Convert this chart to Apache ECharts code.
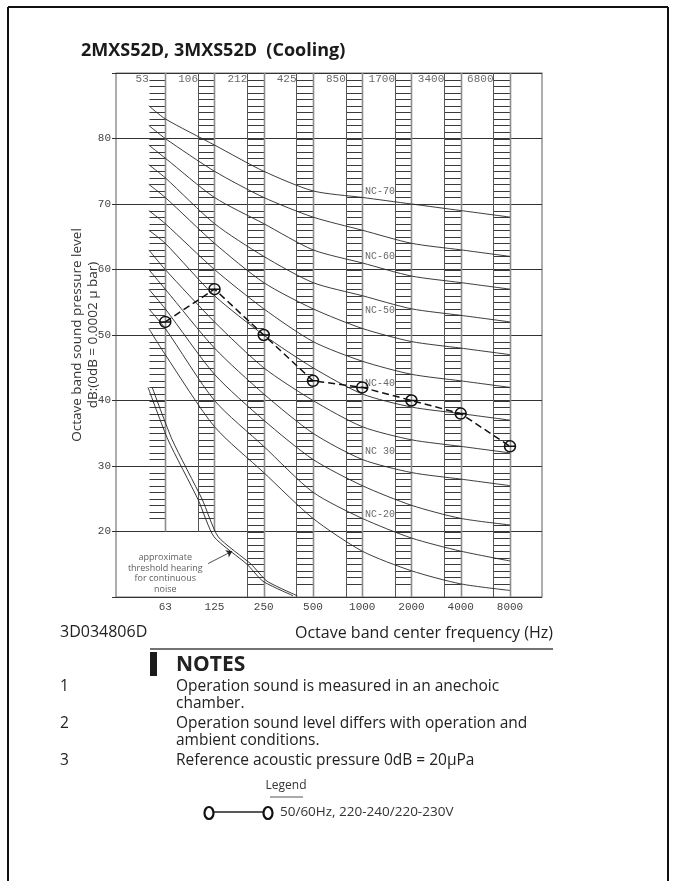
<!DOCTYPE html>
<html>
<head>
<meta charset="utf-8">
<script src="https://cdn.jsdelivr.net/npm/echarts@6/dist/echarts.min.js"></script>
<style>
html,body{margin:0;padding:0;background:#fff;}
#chart{width:677px;height:881px;}
</style>
</head>
<body>
<div id="chart"></div>
<script>
// ---- data ----
const centerFreqs = ['63', '125', '250', '500', '1000', '2000', '4000', '8000'];
const bandEdges = ['53', '106', '212', '425', '850', '1700', '3400', '6800'];
const measuredLevels = [52, 57, 50, 43, 42, 40, 38, 33];
// NC curves: first value = level at lower edge of the 63 Hz band, then 63 ... 8000 Hz
const ncNames = ['NC-15', 'NC-20', 'NC-25', 'NC-30', 'NC-35', 'NC-40', 'NC-45', 'NC-50', 'NC-55', 'NC-60', 'NC-65', 'NC-70'];
const nc15 = [51, 47, 36, 29, 22, 17, 14, 12, 11];
const nc20 = [54, 51, 40, 33, 26, 22, 19, 17, 15.5];
const nc25 = [57, 54, 44, 37, 31, 27, 24, 22, 21];
const nc30 = [60, 57, 48, 41, 35, 31, 29, 28, 27];
const nc35 = [63, 60, 52, 45, 40, 36, 34, 33, 32];
const nc40 = [66, 64, 56, 50, 45, 41, 39, 38, 37];
const nc45 = [69, 67, 60, 54, 49, 46, 44, 43, 42];
const nc50 = [73, 71, 64, 58, 54, 51, 49, 48, 47];
const nc55 = [76, 74, 67, 62, 58, 56, 54, 53, 52];
const nc60 = [79, 77, 71, 67, 63, 61, 59, 58, 57];
const nc65 = [82, 80, 75, 71, 68, 66, 64, 63, 62];
const nc70 = [85, 83, 79, 75, 72, 71, 70, 69, 68];
const ncCurves = [nc15, nc20, nc25, nc30, nc35, nc40, nc45, nc50, nc55, nc60, nc65, nc70];
const ncCurveX = [0.665, 1, 2, 3, 4, 5, 6, 7, 8];
// curve labels (text, level where written)
const ncLabelTexts = ['NC-70', 'NC-60', 'NC-50', 'NC-40', 'NC 30', 'NC-20'];
const ncLabelLevels = [71.9, 62.0, 53.7, 42.6, 32.2, 22.6];
// approximate threshold of hearing (two lines)
const thresholdX = [0.65, 1.056, 1.665, 1.99, 2.66, 2.985, 3.594];
const thresholdY = [42, 34, 24.9, 19.2, 15, 12.4, 10.2];
// hatch range (dB) of each band column
const hatchLow = [22, 22, 12, 12, 12, 12, 12, 12];
const hatchHigh = [89, 89, 89, 89, 89, 89, 89, 89];
const edgeLow = [20, 20, 10, 10, 10, 10, 10, 10];
const yTicks = [20, 30, 40, 50, 60, 70, 80];

const COLW = 0.335;
const chart = echarts.init(document.getElementById('chart'), null, {renderer: 'canvas'});
const mono = '"Liberation Mono", "DejaVu Sans Mono", monospace';
const sans = '"Open Sans", "Noto Sans", sans-serif';

const colData = centerFreqs.map((f, i) => [i + 1, hatchLow[i], hatchHigh[i], edgeLow[i]]);

const series = [];
// band columns (hatched ladders)
series.push({
  type: 'custom',
  silent: true,
  z: 1,
  data: colData,
  renderItem: function (params, api) {
    const c = api.value(0), lo = api.value(1), hi = api.value(2), el = api.value(3);
    const ch = [];
    const r = v => Math.round(v) + 0.5;
    for (let d = lo; d <= hi; d++) {
      const p1 = api.coord([c - COLW, d]);
      const p2 = api.coord([c, d]);
      ch.push({type: 'line', shape: {x1: r(p1[0]), y1: r(p1[1]), x2: r(p2[0]), y2: r(p1[1])},
        style: {stroke: '#3a3a3a', lineWidth: 1}});
    }
    const a = api.coord([c, el]), b = api.coord([c, 90]);
    ch.push({type: 'line', shape: {x1: r(a[0]), y1: a[1], x2: r(a[0]), y2: b[1]},
      style: {stroke: '#8c8c8c', lineWidth: 1.6}});
    if (c > 1) {
      const a2 = api.coord([c - COLW, el]), b2 = api.coord([c - COLW, 90]);
      ch.push({type: 'line', shape: {x1: r(a2[0]), y1: a2[1], x2: r(a2[0]), y2: b2[1]},
        style: {stroke: '#555', lineWidth: 1}});
    }
    return {type: 'group', children: ch};
  }
});
// NC curves
ncCurves.forEach((vals, k) => {
  series.push({
    type: 'line', name: ncNames[k], silent: true, z: 2,
    data: vals.map((v, j) => [ncCurveX[j], v]),
    symbol: 'none', smooth: 0.25,
    lineStyle: {color: '#262626', width: 0.9}
  });
});
// threshold of hearing lines
[0, 0.085].forEach(dx => {
  series.push({
    type: 'line', silent: true, z: 2,
    data: thresholdX.map((x, j) => [x + dx, thresholdY[j]]),
    symbol: 'none', smooth: 0.2,
    lineStyle: {color: '#222', width: 0.9}
  });
});
// arrow from note to threshold line
series.push({
  type: 'lines', coordinateSystem: 'cartesian2d', silent: true, z: 3,
  symbol: ['none', 'arrow'], symbolSize: 6,
  lineStyle: {color: '#222', width: 0.8, opacity: 1},
  data: [{coords: [[1.87, 15.1], [2.36, 17.0]]}]
});
// threshold note text
series.push({
  type: 'scatter', silent: true, z: 4, symbolSize: 0,
  data: [[1.0, 13.6]],
  label: {show: true, position: 'inside', formatter: 'approximate\nthreshold hearing\nfor continuous\nnoise',
    fontFamily: sans, fontSize: 9, lineHeight: 10.6, color: '#333', align: 'center'}
});
// NC labels
series.push({
  type: 'scatter', silent: true, z: 4, symbolSize: 0,
  data: ncLabelLevels.map((v, k) => [5.36, v, ncLabelTexts[k]]),
  label: {show: true, position: 'inside', formatter: p => p.value[2],
    fontFamily: mono, fontSize: 10, color: '#444'}
});
// top band-edge labels
series.push({
  type: 'scatter', silent: true, z: 4, symbolSize: 0,
  data: bandEdges.map((t, i) => [i + 1 - COLW, 89.0, t]),
  label: {show: true, position: 'left', distance: 0, formatter: p => p.value[2],
    fontFamily: mono, fontSize: 11, color: '#444'}
});
// measured data
series.push({
  type: 'line', name: '50/60Hz, 220-240/220-230V', z: 5,
  data: measuredLevels.map((v, i) => [i + 1, v]),
  symbol: 'path://M0,10 A10,10 0 1,1 20,10 A10,10 0 1,1 0,10 Z M0,10 L20,10',
  symbolSize: 11,
  itemStyle: {color: 'rgba(0,0,0,0)', borderColor: '#111', borderWidth: 1.5},
  lineStyle: {color: '#111', width: 1.5, type: [7, 4]}
});

const g = [];
const T = (x, y, text, font, extra) => g.push({type: 'text', x: x, y: y,
  style: Object.assign({text: text, font: font, fill: '#222', verticalAlign: 'middle'}, extra || {})});
// page frame
g.push({type: 'line', shape: {x1: 8, y1: 7, x2: 668, y2: 7}, style: {stroke: '#111', lineWidth: 2}});
g.push({type: 'line', shape: {x1: 8, y1: 7, x2: 8, y2: 881}, style: {stroke: '#111', lineWidth: 2}});
g.push({type: 'line', shape: {x1: 668, y1: 7, x2: 668, y2: 881}, style: {stroke: '#111', lineWidth: 2}});
// title
T(81, 51, '2MXS52D, 3MXS52D  (Cooling)', 'bold 18px ' + sans, {fill: '#1a1a1a'});
// y axis title
g.push({type: 'text', x: 77, y: 335, rotation: Math.PI / 2,
  style: {text: 'Octave band sound pressure level', font: '13.5px ' + sans, fill: '#333', align: 'center', verticalAlign: 'middle'}});
g.push({type: 'text', x: 93, y: 335, rotation: Math.PI / 2,
  style: {text: 'dB:(0dB = 0.0002 \u03bc bar)', font: '13.5px ' + sans, fill: '#333', align: 'center', verticalAlign: 'middle'}});
// drawing number and x title
T(60, 632, '3D034806D', '16px ' + sans);
T(553, 633, 'Octave band center frequency (Hz)', '16px ' + sans, {align: 'right'});
g.push({type: 'line', shape: {x1: 150, y1: 649, x2: 553, y2: 649}, style: {stroke: '#444', lineWidth: 1.5}});
// notes
g.push({type: 'rect', shape: {x: 150, y: 652, width: 7, height: 24}, style: {fill: '#1a1a1a'}});
T(176, 665, 'NOTES', 'bold 21px ' + sans);
const nf = '15.5px ' + sans;
T(60, 687, '1', nf);
T(176, 687, 'Operation sound is measured in an anechoic', nf);
T(176, 704, 'chamber.', nf);
T(60, 724, '2', nf);
T(176, 724, 'Operation sound level differs with operation and', nf);
T(176, 741, 'ambient conditions.', nf);
T(60, 761, '3', nf);
T(176, 761, 'Reference acoustic pressure 0dB = 20\u03bcPa', nf);
// legend
T(286, 786, 'Legend', '12px ' + sans, {align: 'center', fill: '#333'});
g.push({type: 'line', shape: {x1: 270, y1: 797, x2: 303, y2: 797}, style: {stroke: '#555', lineWidth: 1}});
g.push({type: 'line', shape: {x1: 214, y1: 812, x2: 263, y2: 812}, style: {stroke: '#222', lineWidth: 1.5}});
g.push({type: 'ellipse', shape: {cx: 209, cy: 813, rx: 4.5, ry: 6}, style: {stroke: '#111', lineWidth: 2.2, fill: 'none'}});
g.push({type: 'ellipse', shape: {cx: 268, cy: 813, rx: 4.5, ry: 6}, style: {stroke: '#111', lineWidth: 2.2, fill: 'none'}});
T(280, 812, '50/60Hz, 220-240/220-230V', '13.5px ' + sans, {fill: '#333'});

chart.setOption({
  animation: false,
  backgroundColor: '#fff',
  grid: {left: 116, top: 73, width: 426, height: 524, show: true, borderColor: '#777', borderWidth: 1.2, backgroundColor: 'transparent'},
  xAxis: {
    type: 'value', min: 0, max: 8.65, interval: 1,
    axisLine: {show: false}, axisTick: {show: false}, splitLine: {show: false},
    axisLabel: {show: true, margin: 5, fontFamily: mono, fontSize: 11, color: '#444',
      showMaxLabel: false, showMinLabel: false,
      formatter: v => (Number.isInteger(v) && v >= 1 && v <= 8) ? centerFreqs[v - 1] : ''}
  },
  yAxis: {
    type: 'value', min: 10, max: 90, interval: 10,
    axisLine: {show: false},
    axisTick: {show: true, length: 4, lineStyle: {color: '#333'}},
    splitLine: {show: true, lineStyle: {color: '#333', width: 1}},
    axisLabel: {margin: 5, fontFamily: mono, fontSize: 11, color: '#444',
      formatter: v => yTicks.indexOf(v) >= 0 ? String(v) : ''}
  },
  series: series,
  graphic: {elements: g}
});
</script>
</body>
</html>
